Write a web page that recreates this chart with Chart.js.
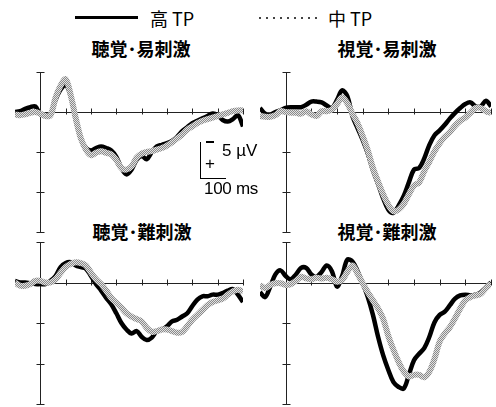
<!DOCTYPE html>
<html lang="ja">
  <head>
    <meta charset="UTF-8" />
    <title>ERP 高TP / 中TP</title>
    <script src="https://cdn.jsdelivr.net/npm/chart.js"></script>
    <style>
      body { margin: 0; width: 496px; height: 407px; overflow: hidden; background: #fff; position: relative; font-family: "Noto Sans CJK JP", "Noto Sans", sans-serif; color: #000; }
      canvas { position: absolute; }
      .abs { position: absolute; white-space: nowrap; }
      .title { font-weight: 700; font-size: 18px; line-height: 20px; transform: translateX(-50%); }
      .leg { font-size: 18px; line-height: 20px; top: 8px; }
      .sb { font-family: "Liberation Sans", Arial, sans-serif; font-size: 17px; line-height: 17px; }
    </style>
  </head>
  <body>
    <div class="abs" style="left:75px;top:16px;width:63px;height:3px;background:#000"></div>
    <div class="abs leg" style="left:150px">高 TP</div>
    <div class="abs" style="left:259px;top:17px;width:60px;height:2px;background-image:linear-gradient(to right,#444 2px,transparent 2px);background-size:7px 2px"></div>
    <div class="abs leg" style="left:328px">中 TP</div>

    <div class="abs title" style="left:141px;top:38px">聴覚･易刺激</div>
    <div class="abs title" style="left:387px;top:38px">視覚･易刺激</div>
    <div class="abs title" style="left:142px;top:221px">聴覚･難刺激</div>
    <div class="abs title" style="left:387px;top:221px">視覚･難刺激</div>

    <canvas id="tl" width="240" height="172" style="left:9px;top:66px"></canvas>
    <canvas id="tr" width="243" height="172" style="left:254px;top:66px"></canvas>
    <canvas id="bl" width="240" height="174" style="left:9px;top:236px"></canvas>
    <canvas id="br" width="243" height="174" style="left:254px;top:236px"></canvas>

    <!-- calibration bar -->
    <div class="abs" style="left:200px;top:142px;width:1px;height:37px;background:#000"></div>
    <div class="abs" style="left:200px;top:178px;width:26px;height:1px;background:#000"></div>
    <div class="abs" style="left:206px;top:141px;width:8px;height:2px;background:#000"></div>
    <div class="abs sb" style="left:205px;top:155px">+</div>
    <div class="abs sb" style="left:222px;top:142px">5 µV</div>
    <div class="abs sb" style="left:204px;top:180px;letter-spacing:-0.3px">100 ms</div>

    <script>
      // time in ms
      var times = [-100, -80, -60, -40, -20, 0, 20, 40, 60, 80, 100, 120, 140, 160, 180, 200, 220, 240, 260, 280, 300, 320, 340, 360, 380, 400, 420, 440, 460, 480, 500, 520, 540, 560, 580, 600, 620, 640, 660, 680, 700, 720, 740, 760, 780, 800];
      var xTicks = [0, 100, 200, 300, 400, 500, 600, 700, 800];
      var yTicks = [-5, 0, 5, 10, 15];

      // µV (negative up)
      var audEasyHigh = [0.0, -0.1, -0.4, -0.6, -0.7, 0.3, 0.4, 0.3, -1.5, -2.8, -3.4, -2.0, 1.0, 3.3, 4.5, 4.8, 4.5, 4.3, 4.5, 4.8, 5.6, 7.0, 7.8, 7.2, 6.0, 5.5, 5.9, 5.0, 4.3, 4.1, 3.9, 3.6, 3.1, 2.4, 1.9, 1.4, 1.1, 0.8, 0.5, 0.2, 0.4, 1.0, 1.2, 0.9, 0.4, 1.8];
      var audEasyMid = [0.3, 0.4, 0.3, 0.1, 0.0, 0.2, 0.5, 0.4, -1.8, -3.3, -4.1, -2.1, 0.8, 3.3, 4.7, 5.4, 5.1, 4.9, 5.1, 5.3, 6.0, 7.0, 7.2, 6.8, 5.7, 5.2, 5.0, 4.9, 4.7, 4.5, 4.2, 3.8, 3.3, 2.8, 2.2, 1.8, 1.4, 1.1, 0.9, 0.7, 0.5, 0.3, 0.1, -0.1, -0.2, -0.2];
      var visEasyHigh = [-0.5, 0.2, 0.3, 0.0, -0.2, -0.5, -0.6, -0.6, -0.6, -0.9, -1.3, -1.3, -1.2, -0.8, -0.5, -1.5, -2.7, -2.0, 0.5, 2.0, 3.5, 5.2, 7.3, 9.0, 10.8, 12.2, 12.6, 11.7, 10.5, 8.8, 7.2, 7.0, 5.8, 4.1, 2.9, 2.3, 1.6, 0.8, 0.1, -0.5, -1.0, -1.2, -0.7, -0.7, -1.4, -0.7];
      var visEasyMid = [0.5, 0.6, 0.6, 0.4, -0.1, 0.0, 0.1, 0.1, 0.2, -0.1, 0.3, 0.5, -0.1, -0.1, -0.3, -1.0, -1.8, -1.1, 0.2, 1.4, 3.0, 4.8, 7.0, 8.7, 10.3, 11.6, 12.4, 12.2, 11.5, 10.3, 9.2, 8.8, 7.4, 6.2, 4.9, 3.9, 3.1, 2.5, 1.7, 1.1, 0.7, 0.1, -0.5, -0.5, -0.1, 0.1];
      var audHardHigh = [-0.2, 0.0, 0.0, 0.1, 0.2, 0.2, 0.2, -0.2, -0.8, -1.9, -2.4, -2.5, -2.1, -1.9, -1.7, -0.8, 0.2, 1.0, 1.9, 2.7, 3.8, 5.0, 5.8, 6.3, 6.0, 6.7, 7.1, 6.8, 6.0, 5.8, 5.4, 4.8, 4.6, 4.2, 3.8, 2.9, 2.1, 1.7, 1.7, 1.5, 1.5, 1.3, 1.0, 0.8, 1.5, 2.4];
      var audHardMid = [0.0, 0.4, 0.4, 0.2, -0.2, -0.2, 0.0, 0.0, -0.4, -1.2, -1.9, -2.3, -2.5, -2.4, -2.1, -1.2, -0.4, 0.2, 1.0, 1.9, 2.5, 3.1, 3.8, 4.2, 4.5, 4.8, 5.6, 6.1, 6.0, 5.8, 5.8, 6.0, 6.2, 6.1, 5.4, 4.6, 4.0, 3.4, 2.8, 2.4, 2.2, 2.0, 1.5, 1.1, 0.9, 1.1];
      var visHardHigh = [1.2, 1.8, 0.5, -1.0, -1.5, -0.8, -0.4, -1.0, -1.8, -1.8, -1.0, -0.7, -1.3, -2.1, -1.4, 0.5, -0.8, -2.8, -2.6, -1.4, 0.1, 1.8, 4.0, 6.7, 9.0, 10.8, 12.3, 12.9, 13.1, 11.4, 9.6, 8.8, 8.1, 6.7, 4.9, 4.0, 3.6, 2.8, 2.0, 1.6, 1.5, 1.6, 1.5, 1.2, 0.6, 0.0];
      var visHardMid = [0.3, 0.7, 0.3, 0.1, 0.1, 0.3, 0.2, -0.2, -0.7, -0.5, -0.4, -0.6, -0.5, -0.6, -0.4, -0.1, -0.3, -1.3, -2.1, -1.1, 0.1, 1.2, 2.2, 3.2, 4.5, 6.6, 8.3, 9.8, 11.0, 11.6, 11.4, 11.4, 11.7, 11.0, 9.4, 7.3, 6.3, 5.5, 4.4, 3.2, 2.2, 1.8, 1.6, 1.4, 0.7, 0.1];

      // stippled grey like the scanned figure
      var pc = document.createElement("canvas");
      pc.width = 2; pc.height = 2;
      var pctx = pc.getContext("2d");
      pctx.fillStyle = "#e2e2e2"; pctx.fillRect(0, 0, 2, 2);
      pctx.fillStyle = "#8a8a8a"; pctx.fillRect(0, 0, 1, 1); pctx.fillRect(1, 1, 1, 1);
      var greyPattern = pctx.createPattern(pc, "repeat");

      var zeroAxes = {
        id: "zeroAxes",
        beforeDatasetsDraw: function (chart) {
          var ctx = chart.ctx, xs = chart.scales.x, ys = chart.scales.y;
          var x0 = Math.round(xs.getPixelForValue(0)) + 0.5;
          var y0 = Math.round(ys.getPixelForValue(0)) + 0.5;
          ctx.save();
          ctx.strokeStyle = "#222";
          ctx.lineWidth = 1;
          ctx.beginPath();
          ctx.moveTo(x0, ys.getPixelForValue(yTicks[0]));
          ctx.lineTo(x0, ys.getPixelForValue(yTicks[yTicks.length - 1]));
          yTicks.forEach(function (v) {
            var p = Math.round(ys.getPixelForValue(v)) + 0.5;
            ctx.moveTo(x0 - 4, p); ctx.lineTo(x0 + 4, p);
          });
          ctx.moveTo(x0, y0);
          ctx.lineTo(xs.getPixelForValue(xTicks[xTicks.length - 1]), y0);
          xTicks.forEach(function (v) {
            if (v === 0) return;
            var p = Math.round(xs.getPixelForValue(v)) + 0.5;
            ctx.moveTo(p, y0 - 4); ctx.lineTo(p, y0 + 2);
          });
          ctx.stroke();
          ctx.restore();
        },
      };

      function pts(vals) {
        return times.map(function (t, i) { return { x: t, y: vals[i] }; });
      }

      function makeChart(id, high, mid) {
        return new Chart(document.getElementById(id), {
          type: "line",
          data: {
            datasets: [
              { label: "高 TP", data: pts(high), borderColor: "#000", borderWidth: 4.5, order: 2 },
              { label: "中 TP", data: pts(mid), borderColor: greyPattern, borderWidth: 6, order: 1 },
            ],
          },
          options: {
            responsive: false,
            animation: false,
            devicePixelRatio: 1,
            layout: { padding: 6 },
            elements: { point: { radius: 0 }, line: { tension: 0.35 } },
            plugins: { legend: { display: false }, tooltip: { enabled: false } },
            scales: {
              x: { type: "linear", min: -100, max: 800, display: false },
              y: { min: -5, max: 15, reverse: true, display: false },
            },
          },
          plugins: [zeroAxes],
        });
      }

      makeChart("tl", audEasyHigh, audEasyMid);
      makeChart("tr", visEasyHigh, visEasyMid);
      makeChart("bl", audHardHigh, audHardMid);
      makeChart("br", visHardHigh, visHardMid);
    </script>
  </body>
</html>
